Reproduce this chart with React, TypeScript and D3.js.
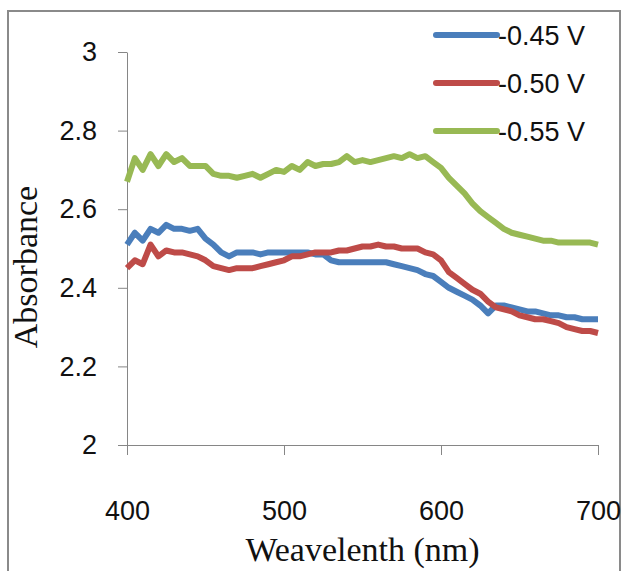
import React, { useEffect, useRef } from 'react';
import * as d3 from 'd3';

// wavelength samples (nm), 5 nm apart
const wavelengths = d3.range(400, 701, 5);

// absorbance
const v045 = [
  2.51, 2.54, 2.52, 2.55, 2.54, 2.56, 2.55, 2.55, 2.545, 2.55,
  2.525, 2.51, 2.49, 2.48, 2.49, 2.49, 2.49, 2.485, 2.49, 2.49,
  2.49, 2.49, 2.49, 2.49, 2.485, 2.485, 2.47, 2.465, 2.465, 2.465,
  2.465, 2.465, 2.465, 2.465, 2.46, 2.455, 2.45, 2.445, 2.435, 2.43,
  2.415, 2.40, 2.39, 2.38, 2.37, 2.355, 2.335, 2.355, 2.355, 2.35,
  2.345, 2.34, 2.34, 2.335, 2.33, 2.33, 2.325, 2.325, 2.32, 2.32, 2.32,
];
const v050 = [
  2.45, 2.47, 2.46, 2.51, 2.48, 2.495, 2.49, 2.49, 2.485, 2.48,
  2.47, 2.455, 2.45, 2.445, 2.45, 2.45, 2.45, 2.455, 2.46, 2.465,
  2.47, 2.48, 2.48, 2.485, 2.49, 2.49, 2.49, 2.495, 2.495, 2.50,
  2.505, 2.505, 2.51, 2.505, 2.505, 2.50, 2.50, 2.50, 2.49, 2.485,
  2.47, 2.44, 2.425, 2.41, 2.395, 2.385, 2.365, 2.35, 2.345, 2.34,
  2.33, 2.325, 2.32, 2.32, 2.315, 2.31, 2.30, 2.295, 2.29, 2.29, 2.285,
];
const v055 = [
  2.67, 2.73, 2.70, 2.74, 2.71, 2.74, 2.72, 2.73, 2.71, 2.71,
  2.71, 2.69, 2.685, 2.685, 2.68, 2.685, 2.69, 2.68, 2.69, 2.70,
  2.695, 2.71, 2.70, 2.72, 2.71, 2.715, 2.715, 2.72, 2.735, 2.72,
  2.725, 2.72, 2.725, 2.73, 2.735, 2.73, 2.74, 2.73, 2.735, 2.72,
  2.705, 2.68, 2.66, 2.64, 2.615, 2.595, 2.58, 2.565, 2.55, 2.54,
  2.535, 2.53, 2.525, 2.52, 2.52, 2.515, 2.515, 2.515, 2.515, 2.515, 2.51,
];

const seriesNames = ['-0.45 V', '-0.50 V', '-0.55 V'];
const seriesValues = [v045, v050, v055];
const seriesColors = ['#4a7ebb', '#be4b48', '#98b954'];

const xTicks = [400, 500, 600, 700];
const yTicks = [2, 2.2, 2.4, 2.6, 2.8, 3];

const App = () => {
  const svgRef = useRef<SVGSVGElement | null>(null);

  useEffect(() => {
    if (!svgRef.current) return;
    const svg = d3.select(svgRef.current);
    svg.selectAll('*').remove();

    const width = 629;
    const height = 571;
    const left = 127, right = 598, top = 52, bottom = 445;

    svg.attr('width', width).attr('height', height);

    svg.append('rect')
      .attr('width', width).attr('height', height)
      .attr('fill', '#fff');

    // outer frame
    svg.append('rect')
      .attr('x', 8).attr('y', 11)
      .attr('width', 612).attr('height', 580)
      .attr('fill', 'none')
      .attr('stroke', '#8a8a8a')
      .attr('stroke-width', 2);

    const x = d3.scaleLinear().domain([400, 700]).range([left, right]);
    const y = d3.scaleLinear().domain([2, 3]).range([bottom, top]);

    const tickFont = '"Liberation Sans", Arial, sans-serif';

    // y axis
    const yAxis = svg.append('g')
      .attr('transform', `translate(${left},0)`)
      .call(d3.axisLeft(y).tickValues(yTicks).tickSize(9).tickSizeOuter(0)
        .tickPadding(21).tickFormat(d => d3.format('~g')(d as number)));
    yAxis.select('.domain').attr('stroke', '#868686');
    yAxis.selectAll('.tick line').attr('stroke', '#868686');
    yAxis.selectAll('.tick text')
      .attr('font-family', tickFont)
      .attr('font-size', 27)
      .attr('fill', '#111');

    // x axis
    const xAxis = svg.append('g')
      .attr('transform', `translate(0,${bottom})`)
      .call(d3.axisBottom(x).tickValues(xTicks).tickSize(10).tickSizeOuter(0)
        .tickPadding(46));
    xAxis.select('.domain').attr('stroke', '#868686');
    xAxis.selectAll('.tick line').attr('stroke', '#868686');
    xAxis.selectAll('.tick text')
      .attr('font-family', tickFont)
      .attr('font-size', 27)
      .attr('fill', '#111');

    // lines
    const line = d3.line<number>()
      .x((_, i) => x(wavelengths[i]))
      .y(d => y(d));

    seriesValues.forEach((vals, k) => {
      svg.append('path')
        .datum(vals)
        .attr('fill', 'none')
        .attr('stroke', seriesColors[k])
        .attr('stroke-width', 6)
        .attr('stroke-linejoin', 'round')
        .attr('d', line);
    });

    // legend
    const legend = svg.append('g');
    seriesNames.forEach((name, k) => {
      const ly = 35 + k * 48;
      legend.append('line')
        .attr('x1', 436).attr('x2', 497)
        .attr('y1', ly).attr('y2', ly)
        .attr('stroke', seriesColors[k])
        .attr('stroke-width', 6)
        .attr('stroke-linecap', 'round');
      legend.append('text')
        .attr('x', 498).attr('y', ly)
        .attr('dy', '0.36em')
        .attr('font-family', tickFont)
        .attr('font-size', 27)
        .attr('fill', '#111')
        .text(name);
    });

    // axis titles
    svg.append('text')
      .attr('x', (left + right) / 2)
      .attr('y', 561)
      .attr('text-anchor', 'middle')
      .attr('font-family', '"Liberation Serif", "Times New Roman", serif')
      .attr('font-size', 34)
      .attr('fill', '#111')
      .text('Weavelenth (nm)');

    svg.append('text')
      .attr('transform', 'rotate(-90)')
      .attr('x', -267)
      .attr('y', 37)
      .attr('text-anchor', 'middle')
      .attr('font-family', '"Liberation Serif", "Times New Roman", serif')
      .attr('font-size', 34)
      .attr('fill', '#111')
      .text('Absorbance');
  }, []);

  return (
    <div style={{ position: 'absolute', left: 0, top: 0 }}>
      <svg ref={svgRef} style={{ display: 'block' }}></svg>
    </div>
  );
};

export default App;
